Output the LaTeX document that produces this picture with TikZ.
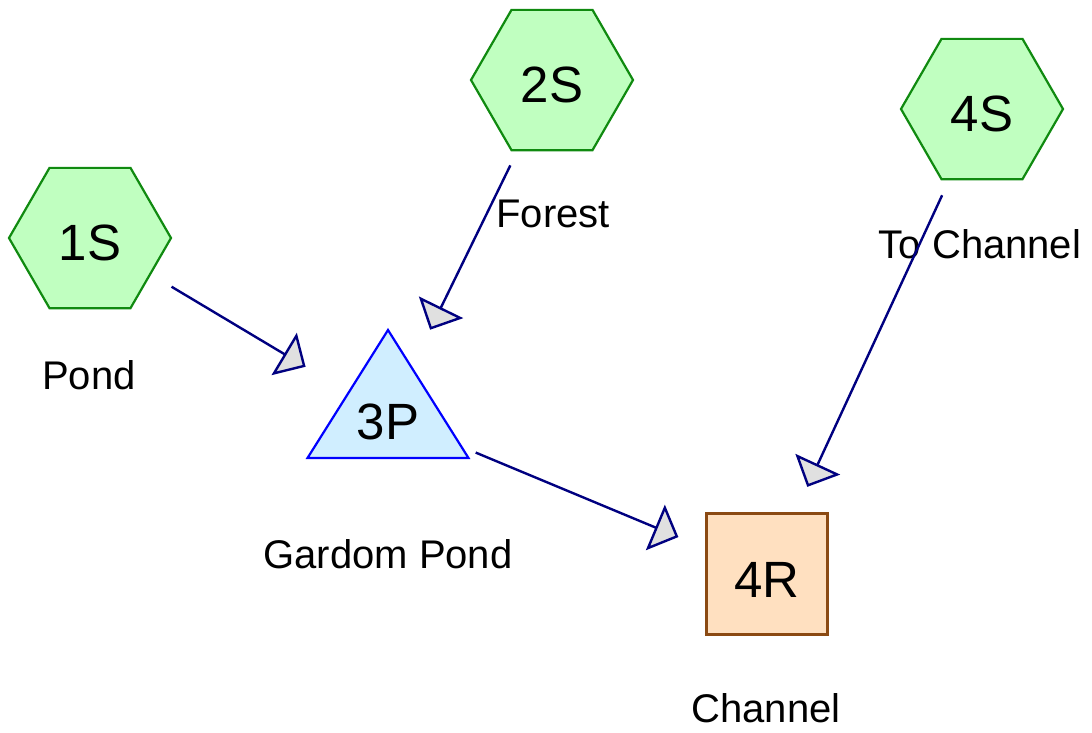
\documentclass[tikz,border=0pt]{standalone}
\usepackage{fontspec}
\setmainfont{Liberation Sans}
\usetikzlibrary{arrows.meta,shapes.geometric}
\definecolor{hexfill}{HTML}{C0FFC0}
\definecolor{hexdraw}{HTML}{108A10}
\definecolor{trifill}{HTML}{D0EEFF}
\definecolor{tridraw}{HTML}{0000FF}
\definecolor{sqfill}{HTML}{FFE0C0}
\definecolor{sqdraw}{HTML}{8B4A13}
\definecolor{connline}{HTML}{000080}
\definecolor{headfill}{HTML}{E0E0E0}
\newcommand\mynodefont{\fontsize{51}{51}\selectfont}
\newcommand\mylabelfont{\fontsize{40}{40}\selectfont}
\begin{document}
\begin{tikzpicture}[x=1pt,y=-1pt,
  hexnode/.style={regular polygon, regular polygon sides=6, minimum size=162pt,
    inner sep=0pt, outer sep=0pt, draw=hexdraw, fill=hexfill, line width=2.2pt,
    font=\mynodefont, text height=44pt, text depth=0pt},
  sqnode/.style={rectangle, minimum size=121pt, inner sep=0pt, outer sep=0pt,
    draw=sqdraw, fill=sqfill, line width=2.2pt,
    font=\mynodefont, text height=46pt, text depth=0pt},
  tritext/.style={inner sep=0pt, outer sep=0pt, font=\mynodefont,
    text height=46pt, text depth=0pt},
  triborder/.style={draw=tridraw, fill=trifill, line width=2.2pt, line join=miter},
  lbl/.style={inner sep=0pt, outer sep=0pt, font=\mylabelfont, anchor=base},
  conn/.style={draw=connline, line width=2.4pt, shorten <=95pt, shorten >=96pt,
    -{Triangle[length=25pt,width=49pt,fill=headfill]}}
]
\useasboundingbox (0,0) rectangle (1092,732);

% shapes
\node[hexnode] (h1) at (90,238) {1S};
\node[hexnode] (h2) at (552,80) {2S};
\node[hexnode] (h4) at (982,109) {4S};
\coordinate (c3) at (388,416);
\draw[triborder] ([yshift=86pt]c3) -- ([xshift=80.5pt,yshift=-42pt]c3)
  -- ([xshift=-80.5pt,yshift=-42pt]c3) -- cycle;
\node[tritext] (p3) at (c3) {3P};
\node[sqnode] (r4) at (767,574) {4R};

% labels
\node[lbl] (lpond) at (89,389) {Pond};
\node[lbl] (lforest) at (553,227) {Forest};
\node[lbl] (ltoch) at (980,258) {To Channel};
\node[lbl] (lgardom) at (388,568) {Gardom Pond};
\node[lbl] (lchannel) at (766,722) {Channel};

% connectors
\draw[conn] (h1.center) -- (p3.center);
\draw[conn] (h2.center) -- (p3.center);
\draw[conn] (h4.center) -- (r4.center);
\draw[conn] (p3.center) -- (r4.center);
\end{tikzpicture}
\end{document}
